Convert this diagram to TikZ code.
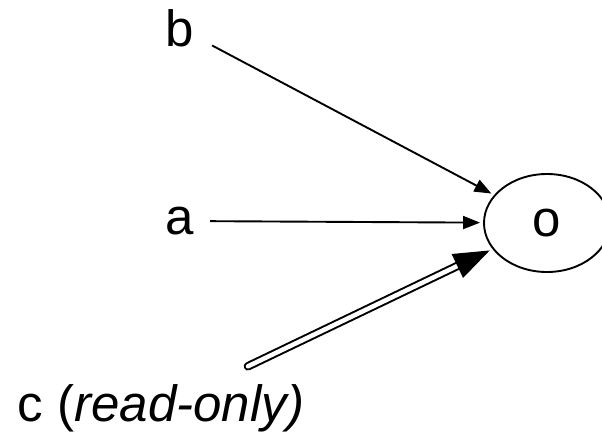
\documentclass[tikz,border=0pt]{standalone}
\usepackage{fontspec}
\setmainfont{Liberation Sans}
\usetikzlibrary{shapes.geometric, arrows.meta}

\begin{document}
\begin{tikzpicture}[x=1pt, y=-1pt, font=\fontsize{51}{56}\selectfont, line width=1.9pt,
    lbl/.style={inner sep=15pt},
    thin arrow/.style={-{Triangle[length=17pt, width=13pt]}, shorten >=3pt},
    ro arrow/.style={double, double distance=4.5pt, line width=2pt, line cap=round,
      -{Triangle[length=36pt, width=26pt]}, shorten >=3pt}]
    \useasboundingbox (0,0) rectangle (602,434);
    \node[ellipse, draw, inner sep=0pt, minimum width=126pt, minimum height=98pt] (o) at (547,223) {o};
    \node[lbl, inner sep=17pt] (b) at (180,28.5) {b};
    \node[lbl] (a) at (180,221) {a};
    \node[lbl, inner sep=17pt] (c) at (161,408) {c (\textit{read-only)}};
    \draw[thin arrow] (b) -- (o);
    \draw[thin arrow] (a) -- (o);
    \draw[ro arrow] (c) -- (o);
\end{tikzpicture}
\end{document}
